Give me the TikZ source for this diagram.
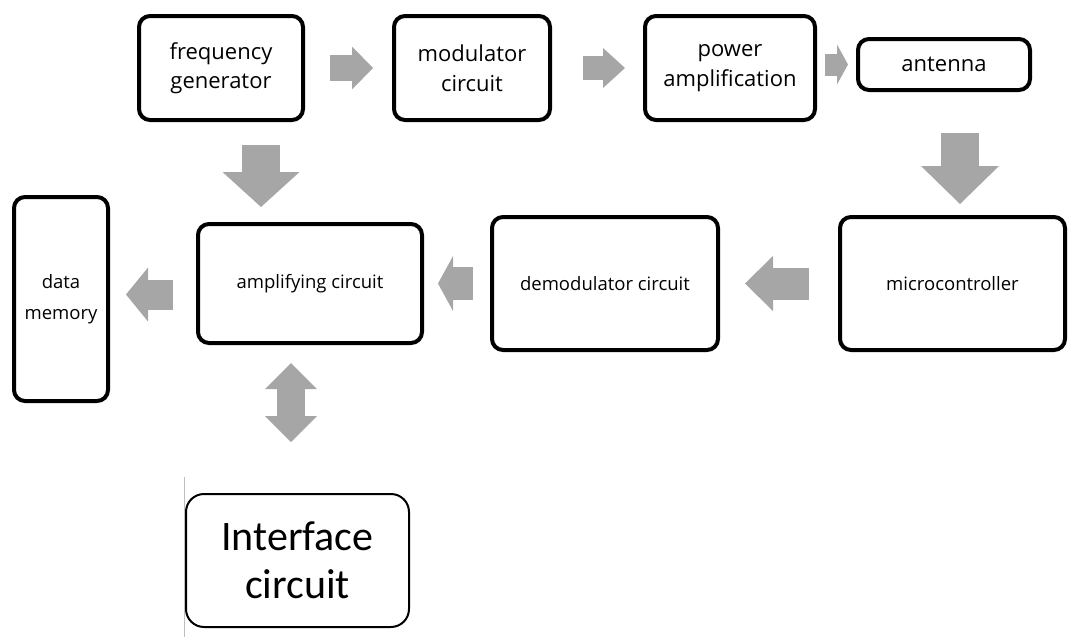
\documentclass[tikz,border=0pt]{standalone}
\usepackage{fontspec}
\setmainfont{Open Sans}
\newfontfamily\calfont{Carlito}
\usepackage{tikz}
\usetikzlibrary{arrows.meta,positioning,calc}
\definecolor{arrowgray}{HTML}{A6A6A6}
\tikzset{
  box/.style={draw, line width=4pt, rounded corners=11pt, align=center, inner sep=0pt},
  bigfont/.style={font=\fontsize{22}{29.5}\selectfont},
  midfont/.style={font=\fontsize{18.5}{31}\selectfont},
  blk/.style n args={3}{draw=arrowgray, line width=#1,
    -{Triangle[length=#2,width=#3,line width=0pt,fill=arrowgray]}},
  dblk/.style n args={3}{draw=arrowgray, line width=#1,
    {Triangle[length=#2,width=#3,line width=0pt,fill=arrowgray]}-{Triangle[length=#2,width=#3,line width=0pt,fill=arrowgray]}}
}

\begin{document}
\begin{tikzpicture}[x=1pt,y=-1pt]
\useasboundingbox (0,0) rectangle (1069,637);

% top row
\node[box,bigfont,minimum width=164pt,minimum height=104pt] (fg) at (221,68) {frequency\\generator};
\node[box,bigfont,minimum width=156pt,minimum height=104pt,right=87pt of fg] (mod) {modulator\\circuit};
\node[box,bigfont,minimum width=170pt,minimum height=104pt,right=91pt of mod] (pow) {power\\amplification};
\node[box,bigfont,minimum width=172pt,minimum height=51pt,right=39pt of pow,yshift=3.5pt] (ant) {antenna};

% middle row
\node[box,midfont,minimum width=224pt,minimum height=119pt] (amp) at (310,283.5) {amplifying circuit};
\node[box,midfont,minimum width=226pt,minimum height=133pt,right=66pt of amp] (demod) {demodulator circuit};
\node[box,midfont,minimum width=225pt,minimum height=133pt,right=118pt of demod] (micro) {microcontroller};
\node[box,midfont,minimum width=94pt,minimum height=204pt,left=86pt of amp,yshift=-15.5pt] (mem) {data\\memory};

% bottom
\node[draw,line width=2pt,rounded corners=18pt,align=center,inner sep=0pt,
      minimum width=223pt,minimum height=133pt,
      font=\calfont\fontsize{42}{48}\selectfont] (iface) at (297.5,560.5) {Interface\\circuit};
\coordinate (s1) at (184,477);
\coordinate (s2) at (184,637);
\draw[gray!50,line width=1pt] (s1) -- (s2);

% block arrows
\draw[blk={26pt}{21pt}{43pt},shorten <=25pt,shorten >=19pt] (fg) -- (mod);
\draw[blk={24pt}{22pt}{40pt},shorten <=31pt,shorten >=18pt] (mod) -- (pow);
\draw[blk={22pt}{11pt}{40pt},shorten <=8pt,shorten >=8pt] (pow.east |- ant.west) -- (ant.west);
\draw[blk={38pt}{35pt}{77pt},shorten <=23pt,shorten >=15pt] ([xshift=40pt]fg.south) -- ([xshift=40pt]fg.south |- amp.north);
\draw[blk={38pt}{38pt}{78pt},shorten <=41pt,shorten >=11pt] ([xshift=16pt]ant.south) -- ([xshift=16pt]ant.south |- micro.north);
\draw[blk={32pt}{28pt}{55pt},shorten <=29pt,shorten >=25pt] (micro.west) -- (micro.west -| demod.east);
\draw[blk={33pt}{15pt}{55pt},shorten <=17pt,shorten >=14pt] (demod.west) -- (demod.west -| amp.east);
\draw[blk={30pt}{22pt}{54pt},shorten <=23pt,shorten >=16pt] ([yshift=-11pt]amp.west) -- ([yshift=-11pt]amp.west -| mem.east);
\draw[dblk={28pt}{26pt}{52pt},shorten <=18pt,shorten >=51pt] ([xshift=-19pt]amp.south) -- ([xshift=-19pt]amp.south |- iface.north);

\end{tikzpicture}
\end{document}
